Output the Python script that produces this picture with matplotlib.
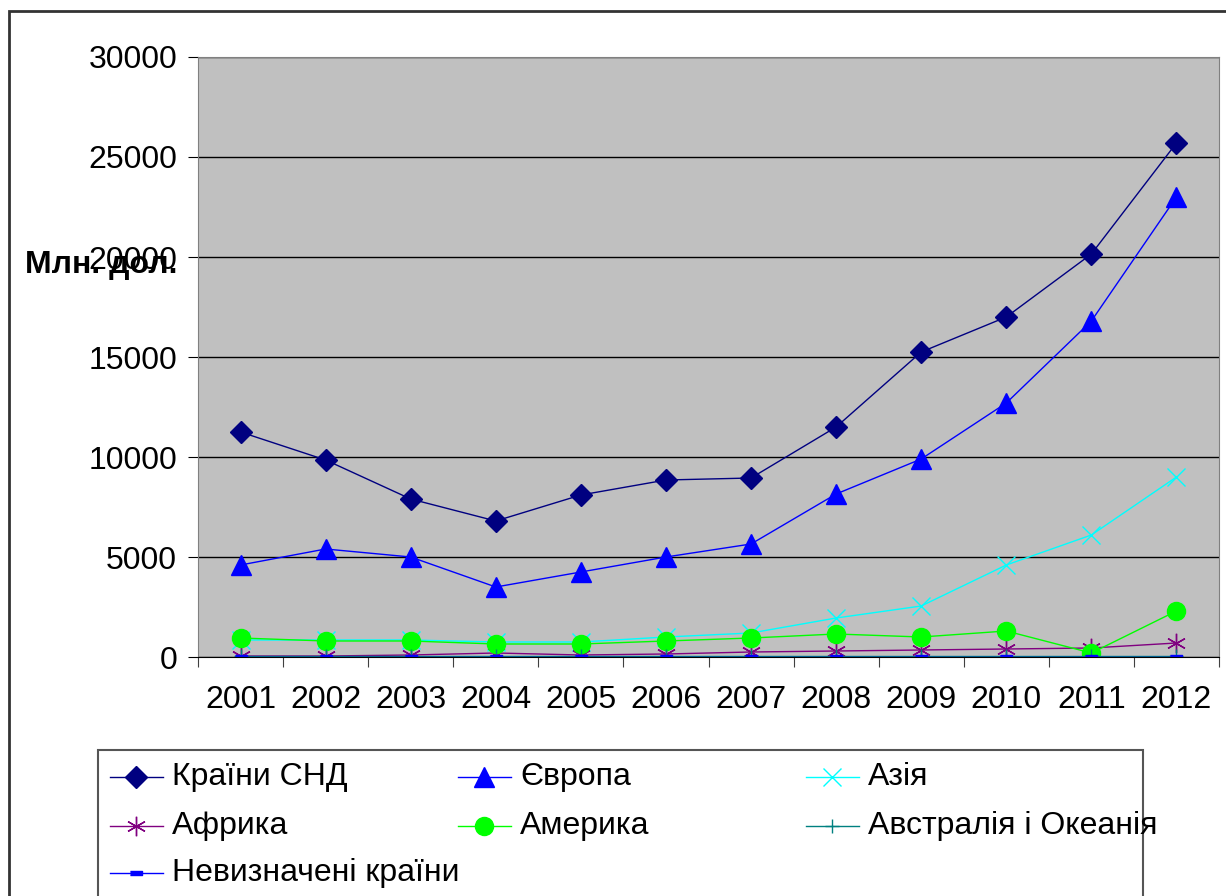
import matplotlib
matplotlib.use("Agg")
import matplotlib.pyplot as plt
from matplotlib.lines import Line2D
from matplotlib.patches import Rectangle
import numpy as np

plt.rcParams['font.family'] = ['Liberation Sans', 'DejaVu Sans']

years = ['2001', '2002', '2003', '2004', '2005', '2006',
         '2007', '2008', '2009', '2010', '2011', '2012']

cis = [11250, 9850, 7900, 6800, 8100, 8850, 8950, 11500, 15250, 17000, 20150, 25700]
europe = [4600, 5400, 5000, 3500, 4250, 5000, 5650, 8150, 9900, 12700, 16800, 23000]
asia = [850, 850, 850, 750, 750, 1000, 1200, 1950, 2550, 4600, 6100, 9000]
africa = [50, 50, 100, 200, 100, 150, 250, 300, 350, 400, 450, 700]
america = [950, 800, 800, 650, 650, 800, 950, 1150, 1000, 1300, 200, 2300]
oceania = [30, 30, 30, 30, 30, 30, 30, 30, 30, 30, 30, 30]
unknown = [10, 10, 10, 10, 10, 10, 10, 10, 10, 10, 10, 10]

dash = [(-1, -0.35), (1, -0.35), (1, 0.35), (-1, 0.35)]
asterisk = (6, 2, 0)

series = [
    ('Країни СНД', cis, dict(color='#000080', marker='D', ms=11)),
    ('Європа', europe, dict(color='#0000FF', marker='^', ms=14)),
    ('Азія', asia, dict(color='#00FFFF', marker='x', ms=13, mew=1)),
    ('Африка', africa, dict(color='#800080', marker=asterisk, ms=14, mew=1)),
    ('Америка', america, dict(color='#00FF00', marker='o', ms=13)),
    ('Австралія і Океанія', oceania, dict(color='#008080', marker='+', ms=10, mew=1)),
    ('Невизначені країни', unknown, dict(color='#0000FF', marker=dash, ms=8)),
]

W, H = 1226, 896
FS = 23
fig = plt.figure(figsize=(W / 100, H / 100), dpi=100)


def fx(x):
    return x / W


def fy(y):
    return 1 - y / H


ax = fig.add_axes([fx(198), fy(657), fx(1219) - fx(198), fy(57) - fy(657)])
ax.set_facecolor('#C0C0C0')

x = np.arange(len(years))
for name, vals, st in series:
    ax.plot(x, vals, lw=1, label=name, **st)

ax.set_xlim(-0.5, len(years) - 0.5)
ax.set_ylim(0, 30000)
ax.set_yticks(np.arange(0, 30001, 5000))
ax.yaxis.grid(True, color='black', lw=1)
ax.set_axisbelow(True)

ax.set_xticks(np.arange(-0.5, len(years), 1))
ax.set_xticklabels([])
ax.set_xticks(x, minor=True)
ax.set_xticklabels(years, minor=True)
ax.tick_params(axis='x', which='major', length=7, direction='out', color='#404040')
ax.tick_params(axis='x', which='minor', length=0, pad=20, labelsize=FS)
ax.tick_params(axis='y', length=7, direction='out', pad=8, labelsize=FS)

for side in ['top', 'right', 'left']:
    ax.spines[side].set_color('#808080')
ax.spines['bottom'].set_color('black')

fig.text(fx(25), fy(265), 'Млн. дол.', fontsize=FS, fontweight='bold',
         va='center', ha='left')

# outer chart frame and legend box
fig.patches.append(Rectangle((fx(9), fy(960)), fx(1300), fy(11) - fy(960),
                             transform=fig.transFigure, fill=False,
                             edgecolor='#333333', lw=2, clip_on=False))
fig.patches.append(Rectangle((fx(98), fy(960)), fx(1143) - fx(98), fy(750) - fy(960),
                             transform=fig.transFigure, fill=False,
                             edgecolor='#555555', lw=1.5, clip_on=False))

# legend entries, row by row
col_x = [110, 458, 806]
row_y = [777, 826, 873]
for i, (name, vals, st) in enumerate(series):
    r, c = divmod(i, 3)
    hx, hy = col_x[c], row_y[r]
    fig.lines.append(Line2D([fx(hx), fx(hx + 53)], [fy(hy), fy(hy)],
                            transform=fig.transFigure, lw=1, color=st['color']))
    mst = {k: v for k, v in st.items() if k != 'color'}
    fig.lines.append(Line2D([fx(hx + 26)], [fy(hy)], transform=fig.transFigure,
                            color=st['color'], ls='none', **mst))
    fig.text(fx(hx + 62), fy(hy), name, fontsize=FS, va='center', ha='left')

fig.savefig('out.png', dpi=100)
